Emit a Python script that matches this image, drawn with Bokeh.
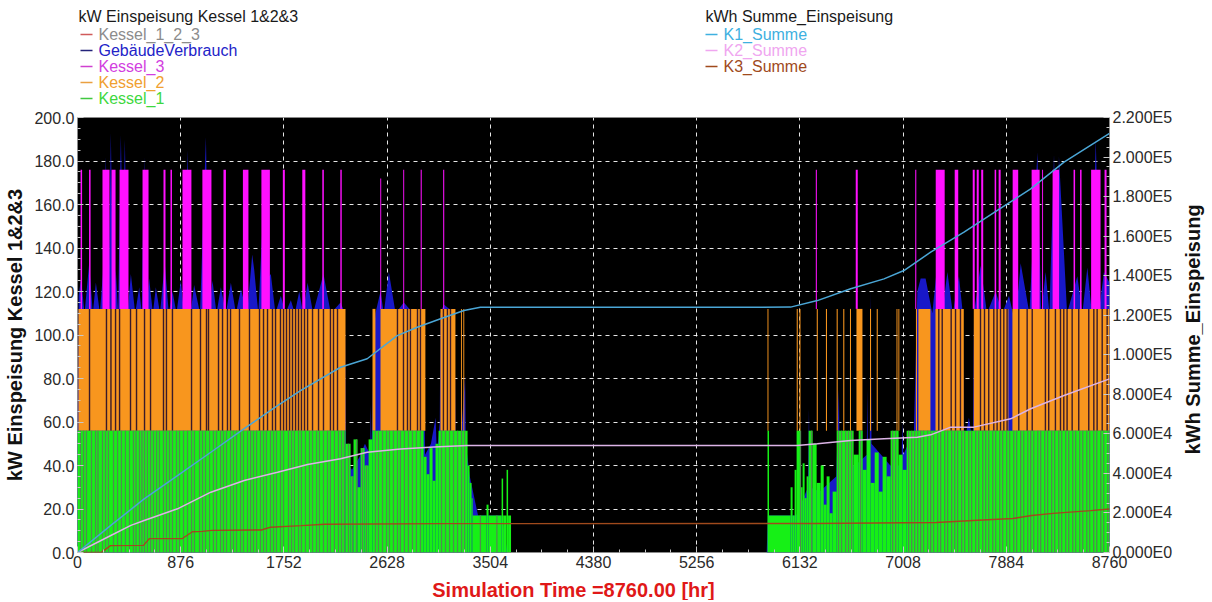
import numpy as np
from bokeh.plotting import figure
from bokeh.layouts import column, row
from bokeh.models import (Range1d, LinearAxis, SingleIntervalTicker, CustomJSTickFormatter,
                          PrintfTickFormatter, ColumnDataSource)
from bokeh.core.properties import value
from bokeh.embed import file_html
from bokeh.resources import INLINE

# ---------------- data (hours of the year, kW / kWh) ----------------
# Kessel_3 operating runs (start, end) and level in kW
k3_start = [26, 98, 212, 289, 357, 552, 730, 789, 891, 1060, 1239, 1404, 1561, 1743, 1908, 2078, 2231,
            2570, 2765, 2913, 3104,
            6267, 6606, 7111, 7285, 7446, 7599, 7633, 7671, 7785, 7819, 7938, 8099, 8188, 8277, 8455,
            8510, 8604, 8718]
k3_end = [39, 111, 272, 323, 433, 603, 747, 802, 967, 1137, 1260, 1451, 1633, 1760, 1934, 2091, 2243,
          2578, 2773, 2922, 3113,
          6276, 6623, 7120, 7361, 7476, 7616, 7650, 7688, 7798, 7836, 7985, 8167, 8196, 8332, 8468,
          8523, 8684, 8735]
k3_kw = [176] * 17 + [172] + [176] * 21

# Kessel_2 operating runs (start, end), level 112 kW (drawn above the Kessel_1 band)
k2_start = [8, 2504, 2572, 3081, 3255, 3275, 5857, 6105, 6128, 6275, 6353, 6444, 6500, 6557, 6612,
            6727, 6784, 6952, 6968, 7117, 7138, 7283, 7608, 7936]
k2_end = [2275, 2529, 2953, 3208, 3263, 3283, 5865, 6114, 6137, 6284, 6362, 6453, 6509, 6566, 6663,
          6736, 6793, 6960, 6976, 7126, 7240, 7523, 7902, 8760]
k2_kw = 112
k1_band = 56
# short Kessel_2 switch-off hours inside the runs
k2_off = [102, 246, 284, 323, 357, 450, 501, 569, 620, 730, 755, 806, 968, 1044, 1095, 1112, 1197,
          1231, 1273, 1299, 1375, 1460, 1545, 1579, 1613, 1655, 1681, 1723, 1749, 1774, 1800, 1825,
          1851, 1876, 1901, 1927, 1953, 1995, 2046, 2088, 2147, 2173, 2207, 2716, 2767, 2801, 2826,
          2886, 2911, 3106, 3140, 3166, 7311, 7340, 7416, 7453, 7495, 7665, 7699, 7735, 7778, 7806,
          7835, 7863, 7891, 7990, 8061, 8104, 8216, 8244, 8301, 8344, 8372, 8400, 8443, 8499, 8584,
          8627, 8655, 8698, 8740]

# Kessel_1 output: step levels (start hour, kW until next start)
k1_t = [0, 2275, 2318, 2343, 2377, 2403, 2437, 2471, 2504, 2938, 2963, 2988, 3014, 3039, 3065, 3311,
        3328, 3345, 3354, 3472, 3489, 3600, 3613, 3642, 3655, 3680,
        5857, 5870, 6053, 6070, 6087, 6104, 6138, 6155, 6172, 6189, 6206, 6240, 6274, 6308, 6334,
        6359, 6384, 6410, 6444, 6588, 6631, 6665, 6698, 6732, 6767, 6801, 6834, 6868, 6902, 6970,
        7004, 7038]
k1_kw = [56, 50, 35, 52, 30, 48, 40, 52, 56, 44, 36, 48, 33, 50, 56, 40,
         32, 25, 17, 22, 17, 34, 17, 38, 17, 0,
         56, 17, 30, 17, 38, 56, 30, 41, 25, 35, 56, 50, 32, 40, 22,
         35, 18, 28, 56, 45, 56, 38, 52, 32, 46, 28, 44, 35, 56, 45,
         38, 56]
# short Kessel_1 switch-off hours
k1_off = [25, 51, 76, 119, 153, 174, 212, 238, 263, 306, 340, 373, 407, 441, 475, 497, 526, 547, 569,
          594, 620, 645, 671, 696, 730, 755, 781, 806, 840, 866, 900, 934, 968, 993, 1036, 1061, 1087,
          1121, 1154, 1180, 1214, 1239, 1265, 1299, 1324, 1350, 1384, 1409, 1443, 1469, 1494, 1520,
          1553, 1579, 1604, 1638, 1664, 1689, 1723, 1749, 1791, 1817, 1842, 1876, 1901, 1935, 1969,
          1995, 2029, 2054, 2088, 2122, 2147, 2181, 2215, 2241, 2266, 2300, 2334, 2368, 2419, 2453,
          2529, 2555, 2589, 2623, 2648, 2682, 2716, 2741, 2775, 2809, 2843, 2877, 2911, 3090, 3124,
          3158, 3192, 3226, 3260, 3286, 3420, 3560,
          6137, 6231, 6460, 6486, 6520, 6545, 6571, 6647, 6919, 6945, 7055, 7081, 7106, 7132, 7157,
          7182, 7216, 7242, 7267, 7301, 7327, 7361, 7386, 7420, 7446, 7471, 7505, 7531, 7565, 7590,
          7624, 7650, 7684, 7709, 7735, 7769, 7794, 7828, 7853, 7887, 7913, 7947, 7972, 8006, 8032,
          8066, 8091, 8117, 8151, 8176, 8210, 8235, 8269, 8295, 8329, 8354, 8388, 8414, 8448, 8473,
          8507, 8533, 8567, 8592, 8626, 8652, 8686, 8711, 8745]

# GebaeudeVerbrauch (building demand) envelope, kW
gv_h = [0, 10, 30, 60, 99, 130, 156, 190, 215, 241, 262, 283, 305, 325, 345, 368, 385, 402, 425, 453,
        490, 524, 545, 566, 585, 608, 640, 665, 700, 741, 775, 807, 840, 877, 905, 934, 960, 990, 1040,
        1090, 1115, 1146, 1180, 1217, 1260, 1302, 1345, 1387, 1440, 1483, 1500, 1535, 1579, 1600, 1641,
        1680, 1726, 1765, 1811, 1845, 1882, 1915, 1953, 2000, 2088, 2150, 2233, 2270,
        2280, 2330, 2395, 2440, 2485, 2490, 2496, 2515, 2529, 2572, 2600, 2643, 2700, 2770, 2850, 2940,
        2950, 3000, 3040, 3050, 3075, 3081, 3110, 3200, 3210, 3250, 3290, 3296, 3330, 3400, 3600, 3650,
        5850, 5860, 6100, 6200, 6209, 6215, 6300, 6440, 6463, 6470, 6600, 6700, 6704, 6710, 6725, 6732,
        6740, 6900, 6995, 7001, 7010, 7100, 7129, 7157,
        7199, 7256, 7299, 7340, 7384, 7430, 7482, 7515, 7525, 7567, 7600, 7610, 7666, 7720, 7794, 7850,
        7907, 7940, 7964, 7985, 8006, 8080, 8148, 8180, 8218, 8250, 8289, 8310, 8331, 8400, 8487, 8530,
        8572, 8610, 8643, 8680, 8713, 8760]
gv_kw = [45, 118, 126, 110, 133, 110, 124, 110, 128, 182, 110, 193, 110, 130, 110, 192, 140, 190, 110,
         128, 110, 122, 110, 182, 110, 126, 110, 122, 110, 133, 110, 120, 110, 125, 110, 185, 110, 123,
         110, 191, 110, 125, 110, 122, 110, 124, 110, 121, 110, 137, 130, 110, 161, 125, 128, 110, 118,
         110, 116, 110, 120, 110, 124, 110, 128, 110, 115, 110,
         42, 38, 44, 50, 45, 68, 45, 100, 110, 120, 110, 129, 110, 115, 110, 110,
         45, 50, 62, 45, 60, 110, 114, 110, 50, 48, 81, 50, 35, 17, 17, 0,
         0, 17, 17, 30, 66, 30, 28, 35, 75, 40, 40, 45, 75, 45, 50, 120,
         50, 40, 40, 60, 45, 56, 120, 126,
         126, 110, 133, 110, 129, 110, 127, 110, 50, 62, 50, 110, 132, 110, 120, 110,
         118, 110, 140, 120, 133, 110, 184, 110, 129, 110, 183, 125, 182, 110, 127, 110,
         131, 110, 190, 115, 129, 124]

# cumulative energies, kWh (right axis)
k1s_h = [0, 283, 566, 849, 1132, 1415, 1698, 1893, 2233, 2459, 2714, 2884, 3082, 3280, 3420, 6053,
         6280, 6563, 6846, 7015, 7242, 7525, 7808, 8091, 8374, 8760]
k1s_kwh = [0, 13700, 27100, 38900, 50700, 62600, 74300, 81900, 93700, 98000, 109700, 113900, 118200,
           122400, 124000, 124100, 127400, 133400, 138400, 142600, 151900, 162000, 173000, 183900,
           197400, 212000]
k2s_h = [0, 283, 453, 566, 849, 1132, 1415, 1698, 1953, 2233, 2459, 2742, 3025, 3308, 6110, 6280,
         6563, 6846, 7129, 7242, 7412, 7609, 7921, 8091, 8374, 8760]
k2s_kwh = [0, 8600, 13700, 16200, 22100, 30500, 36400, 40600, 44500, 47400, 50700, 52400, 53300,
           54100, 54100, 55000, 56600, 57500, 58300, 59500, 63400, 63400, 67600, 72700, 79400, 87800]
k3s_h = [0, 200, 280, 560, 610, 890, 975, 1060, 1140, 1560, 1640, 1900, 2100, 3120, 6260, 7290, 7600,
         7940, 8100, 8280, 8600, 8760]
k3s_kwh = [0, 0, 3500, 3600, 7000, 7100, 10500, 10700, 11200, 11400, 12800, 13600, 14300, 14600,
           14700, 15200, 16200, 17200, 18700, 19800, 21200, 22000]

left_title = "kW Einspeisung Kessel 1&2&3"
left_names = ["Kessel_1_2_3", "GebäudeVerbrauch", "Kessel_3", "Kessel_2", "Kessel_1"]
left_text_colors = ["#8c8c8c", "#2323c8", "#d23ee0", "#f0a030", "#3ed83e"]
left_line_colors = ["#d05a5a", "#23237a", "#d040d0", "#eaa040", "#40c840"]
right_title = "kWh Summe_Einspeisung"
right_names = ["K1_Summe", "K2_Summe", "K3_Summe"]
right_colors = ["#3eb0e0", "#f0a6f0", "#a04a1c"]
x_title = "Simulation Time =8760.00 [hr]"

HOURS = 8760
FONT = "Liberation Sans"

# ---------------- layout sizes (px) ----------------
TOTAL_W, TOTAL_H = 1212, 600
LEG_H = 108
XLAB_H = 26
MAIN_H = TOTAL_H - LEG_H - XLAB_H
BL, BR, BT, BB = 77, 73, 9, 22
MAIN_W = BL + 1032 + BR
RLAB_W = TOTAL_W - MAIN_W


def bare(fig):
    fig.outline_line_color = None
    fig.background_fill_color = "white"
    fig.border_fill_color = "white"
    fig.grid.visible = False
    return fig


# ---------------- main plot ----------------
p = figure(width=MAIN_W, height=MAIN_H, min_border_left=BL, min_border_right=BR,
           min_border_top=BT, min_border_bottom=BB, toolbar_location=None, output_backend="svg",
           x_range=Range1d(0, HOURS), y_range=Range1d(0, 200))
p.extra_y_ranges = {"kwh": Range1d(0, 220000)}
p.background_fill_color = "black"
p.border_fill_color = "white"
p.outline_line_color = "#8a8a8a"

xt = SingleIntervalTicker(interval=876, num_minor_ticks=4)
yt = SingleIntervalTicker(interval=20, num_minor_ticks=4)
p.xaxis.ticker = xt
p.yaxis.ticker = yt
p.yaxis.formatter = PrintfTickFormatter(format="%.1f")
p.yaxis.axis_label = left_title
p.xgrid.ticker = xt
p.ygrid.ticker = yt
for g in (p.xgrid, p.ygrid):
    g.grid_line_color = "white"
    g.grid_line_dash = "4 4"
    g.grid_line_width = 1
    g.grid_line_alpha = 0.9

ra = LinearAxis(y_range_name="kwh", ticker=SingleIntervalTicker(interval=20000, num_minor_ticks=4),
                formatter=CustomJSTickFormatter(code="return tick.toExponential(3).replace('e+','E');"))
p.add_layout(ra, "right")

for ax in p.xaxis + p.yaxis:
    ax.axis_line_color = None
    ax.major_tick_in = 6
    ax.major_tick_out = 0
    ax.minor_tick_in = 3
    ax.minor_tick_out = 0
    ax.major_tick_line_color = "#c8c8c8"
    ax.minor_tick_line_color = "#c8c8c8"
    ax.major_label_text_font = FONT
    ax.major_label_text_font_size = "16px"
    ax.major_label_text_color = "#2a2a2a"
    ax.major_label_standoff = 3
    ax.axis_label_text_font = FONT
    ax.axis_label_text_font_size = "20px"
    ax.axis_label_text_font_style = "bold"
    ax.axis_label_text_color = "#111111"
    ax.axis_label_standoff = 5
p.xaxis.major_label_standoff = 3

# building demand (underneath)
p.varea(x=gv_h, y1=0, y2=gv_kw, fill_color="#1818c8")

# Kessel_2 band
p.quad(left=k2_start, right=k2_end, bottom=k1_band, top=k2_kw, fill_color="#f8961e", line_color=None)
p.segment(x0=k2_off, y0=k1_band, x1=k2_off, y1=k2_kw, line_color="#3a1a2a", line_width=1.4)

# Kessel_3 band
p.quad(left=k3_start, right=k3_end, bottom=k2_kw, top=k3_kw, fill_color="#ff10ff", line_color=None)

# Kessel_1
k1_right = k1_t[1:] + [HOURS]
p.quad(left=k1_t, right=k1_right, bottom=0, top=k1_kw, fill_color="#16f016", line_color=None)
idx = np.searchsorted(np.array(k1_t), np.array(k1_off), side="right") - 1
k1_off_top = [k1_kw[i] for i in idx]
p.segment(x0=k1_off, y0=0, x1=k1_off, y1=k1_off_top, line_color="#4f8c4f", line_width=1.3)

# cumulative sums on the right axis
p.line(k3s_h, k3s_kwh, y_range_name="kwh", line_color=right_colors[2], line_width=1.4)
p.line(k2s_h, k2s_kwh, y_range_name="kwh", line_color="#dcb4e6", line_width=1.5)
p.line(k1s_h, k1s_kwh, y_range_name="kwh", line_color="#4aa6d6", line_width=1.5)

# ---------------- legend strip (pixel coordinates, y downwards) ----------------
leg = bare(figure(width=TOTAL_W, height=LEG_H, x_range=Range1d(0, TOTAL_W), y_range=Range1d(LEG_H, 0),
                  min_border=0, toolbar_location=None, output_backend="svg",
                  x_axis_location=None, y_axis_location=None))

ROW0, ROWSTEP = 34, 16
LX_T, LX_M, LX_X = 78, 80, 98
RX_T, RX_M, RX_X = 705, 705, 723
t_x = [LX_T, RX_T] + [LX_X] * len(left_names) + [RX_X] * len(right_names)
t_y = [16, 16] + [ROW0 + i * ROWSTEP for i in range(len(left_names))] + \
      [ROW0 + i * ROWSTEP for i in range(len(right_names))]
t_txt = [left_title, right_title] + left_names + right_names
t_col = ["#1a1a1a", "#1a1a1a"] + left_text_colors + right_colors
leg.text(x="x", y="y", text="t", text_color="c",
         source=ColumnDataSource(dict(x=t_x, y=t_y, t=t_txt, c=t_col)),
         text_font=value(FONT), text_font_size="16px", text_baseline="middle", text_align="left")
m_x0 = [LX_M] * len(left_names) + [RX_M] * len(right_names)
m_y = [ROW0 + i * ROWSTEP for i in range(len(left_names))] + \
      [ROW0 + i * ROWSTEP for i in range(len(right_names))]
m_col = left_line_colors + right_colors
leg.segment(x0="x0", y0="y", x1="x1", y1="y", line_color="c", line_width=1.3,
            source=ColumnDataSource(dict(x0=m_x0, x1=[v + 12 for v in m_x0], y=m_y, c=m_col)))

# ---------------- right axis title strip ----------------
rlab = bare(figure(width=RLAB_W, height=MAIN_H, x_range=Range1d(0, RLAB_W), y_range=Range1d(MAIN_H, 0),
                   min_border=0, toolbar_location=None, output_backend="svg",
                   x_axis_location=None, y_axis_location=None))
rlab.text(x=[10], y=[BT + 218], text=[right_title], angle=np.pi / 2,
          text_font=value(FONT), text_font_size="20px", text_font_style="bold", text_color="#111111",
          text_align="center", text_baseline="middle")

# ---------------- x axis title strip ----------------
xlab = bare(figure(width=TOTAL_W, height=XLAB_H, x_range=Range1d(0, TOTAL_W), y_range=Range1d(XLAB_H, 0),
                   min_border=0, toolbar_location=None, output_backend="svg",
                   x_axis_location=None, y_axis_location=None))
xlab.text(x=[573], y=[15], text=[x_title], text_font=value(FONT), text_font_size="20px",
          text_font_style="bold", text_color="#e01818", text_align="center", text_baseline="middle")

layout = column(leg, row(p, rlab), xlab)
open("out.html", "w").write(file_html(layout, INLINE))
